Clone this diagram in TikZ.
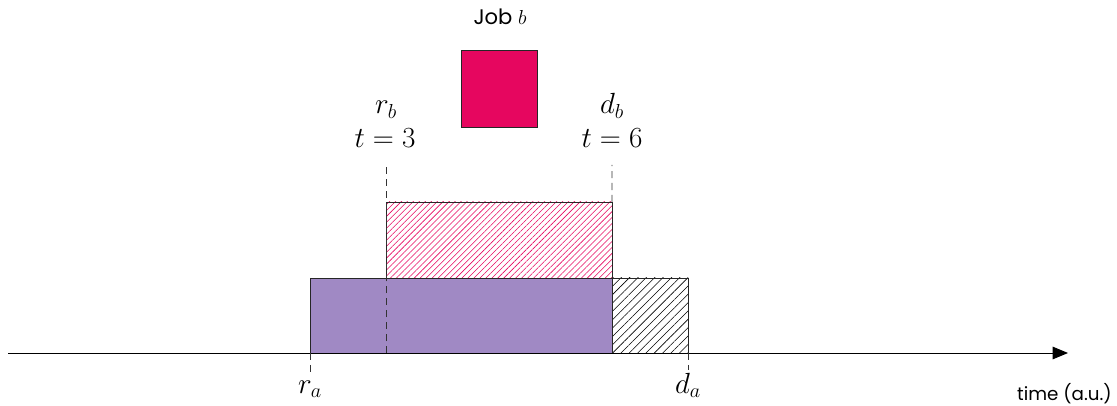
\documentclass[tikz,border=0pt]{standalone}
\usepackage{fontspec}
\newfontfamily\labelfont{Poppins}
\usetikzlibrary{arrows.meta, positioning, patterns.meta}
\definecolor{jobpink}{HTML}{E6065F}
\definecolor{jobpurple}{HTML}{A089C4}

\begin{document}
\begin{tikzpicture}[
			x=0.025cm, y=-0.025cm,
			% flechas y marcas del eje
			myarrow/.style={-{Triangle[length=11pt, width=9pt]}, line width=0.7pt, black},
			tick/.style={dash pattern=on 5pt off 3.5pt, line width=0.6pt, black!80},
			box/.style={rectangle, draw=black!85, line width=0.6pt, inner sep=0pt, outer sep=0pt},
			solidbox/.style={box, fill=jobpurple, minimum width=7.55cm, minimum height=1.875cm},
			hatchbox/.style={box, minimum width=1.9cm, minimum height=1.875cm, pattern={Lines[angle=45, distance=4.2pt, line width=0.4pt]}, pattern color=black},
			pinkhatch/.style={box, minimum width=5.65cm, minimum height=1.9cm, pattern={Lines[angle=45, distance=3pt, line width=0.4pt]}, pattern color=jobpink},
			jobsquare/.style={box, fill=jobpink, minimum width=1.9cm, minimum height=1.925cm},
			mathlabel/.style={inner sep=0pt, anchor=base, font=\fontsize{20}{24}\selectfont},
			textlabel/.style={inner sep=0pt, font=\labelfont\fontsize{13}{16}\selectfont}
			]
			\useasboundingbox (0,0) rectangle (1117,406);
			
			\coordinate (start) at (8,353);
			\coordinate (end) at (1068,353);
			\coordinate (ra) at (310,353);
			\coordinate (rb) at (386,353);
			\coordinate (db) at (612,353);
			\coordinate (da) at (688,353);
			
			% trabajos
			\node[solidbox, anchor=south west] (joba) at (ra) {};
			\node[hatchbox, right=0pt of joba] (late) {};
			\node[pinkhatch, anchor=south west] (slot) at (rb |- joba.north) {};
			\node[jobsquare] (jobb) at (499,88.5) {};
			\node[textlabel, anchor=base, font=\labelfont\fontsize{15}{18}\selectfont] (jobtitle) at (500,25) {Job $b$};
			
			% eje del tiempo
			\draw[myarrow] (start) -- (end);
			\node[textlabel, anchor=base east] (axislabel) at (1112,400) {time (a.u.)};
			
			% marcas
			\draw[tick] (rb) -- (rb |- 0,165);
			\draw[tick] (slot.north east) -- (db |- 0,165);
			\draw[tick] (ra) -- ++(0,19);
			\draw[tick] (da) -- ++(0,17);
			
			\node[mathlabel] (ralabel) at (310,393) {$r_a$};
			\node[mathlabel] (dalabel) at (688,393) {$d_a$};
			\node[mathlabel] (rblabel) at (386,114) {$r_b$};
			\node[mathlabel] (rbtime) at (385,148) {$t=3$};
			\node[mathlabel] (dblabel) at (612,114) {$d_b$};
			\node[mathlabel] (dbtime) at (612,148) {$t=6$};
			
		\end{tikzpicture}
\end{document}
